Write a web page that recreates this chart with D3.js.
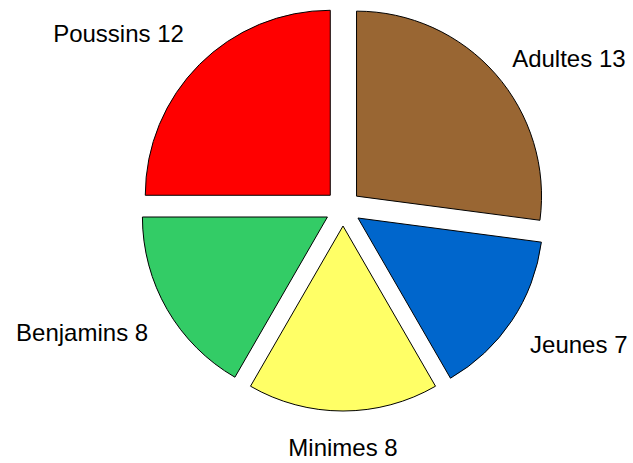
<!DOCTYPE html>
<html lang="fr">
<head>
    <meta charset="UTF-8">
    <title>Répartition</title>
    <script src="https://d3js.org/d3.v7.min.js"></script>
    <style>
        body {
            margin: 0;
            background: #fff;
        }
        .label {
            font-family: "Liberation Sans", Arial, sans-serif;
            font-size: 24px;
            fill: #000;
        }
    </style>
</head>
<body>
    <svg width="633" height="463"></svg>
    <script>
        // Chart data
        const categories = ["Adultes", "Jeunes", "Minimes", "Benjamins", "Poussins"];
        const values = [13, 7, 8, 8, 12];
        const colors = ["#996633", "#0066cc", "#ffff66", "#33cc66", "#ff0000"];

        // label baseline shift (px) from the anchor point, one per slice
        const labelDy = [7, 20, 23, 20, -7];

        const cx = 343, cy = 208;
        const radius = 185,
              explode = 18,
              labelRadius = 225;

        const svg = d3.select("svg");
        const g = svg.append("g")
                     .attr("transform", `translate(${cx},${cy})`);

        const data = categories.map((c, i) => ({ name: c, value: values[i], color: colors[i], dy: labelDy[i] }));

        const pie = d3.pie()
                      .sort(null)
                      .value(d => d.value);

        const arc = d3.arc()
                      .innerRadius(0)
                      .outerRadius(radius);

        const arcs = pie(data);
        const mid = d => (d.startAngle + d.endAngle) / 2;

        // Slices, each pulled out along its middle angle
        g.selectAll(".slice")
         .data(arcs)
         .enter().append("path")
         .attr("class", "slice")
         .attr("d", arc)
         .attr("transform", d => {
             const a = mid(d);
             return `translate(${Math.sin(a) * explode},${-Math.cos(a) * explode})`;
         })
         .attr("fill", d => d.data.color)
         .attr("stroke", "#000")
         .attr("stroke-width", 1);

        // Labels outside the pie
        g.selectAll(".label")
         .data(arcs)
         .enter().append("text")
         .attr("class", "label")
         .attr("x", d => Math.sin(mid(d)) * labelRadius)
         .attr("y", d => -Math.cos(mid(d)) * labelRadius)
         .attr("dy", d => d.data.dy)
         .attr("text-anchor", d => {
             const s = Math.sin(mid(d));
             return Math.abs(s) < 0.1 ? "middle" : (s > 0 ? "start" : "end");
         })
         .text(d => `${d.data.name} ${d.data.value}`);
    </script>
</body>
</html>
